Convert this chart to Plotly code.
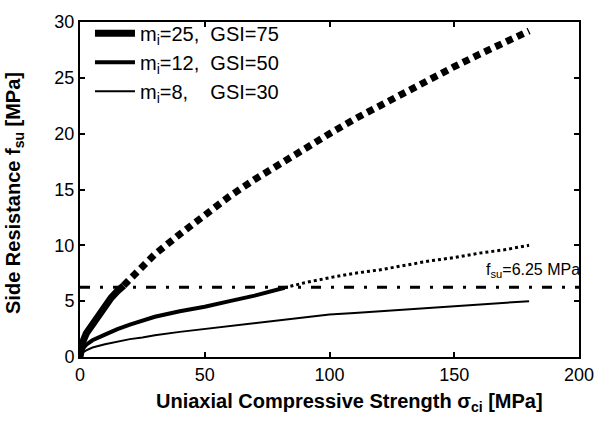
import plotly.graph_objects as go

# ---- data ----
sigma_a_solid = [0, 1, 2.5, 5, 7.5, 10, 12.5, 15, 17.5]
fsu_a_solid = [0, 1.3, 2.1, 2.9, 3.8, 4.6, 5.3, 5.9, 6.4]
sigma_a_dot = [17.5, 20, 30, 40, 50, 60, 70, 80, 90, 100, 110, 120, 130, 140, 150, 160, 170, 180]
fsu_a_dot = [6.4, 7.0, 9.2, 11.0, 12.8, 14.4, 15.9, 17.3, 18.7, 20.0, 21.3, 22.5, 23.7, 24.9, 26.0, 27.1, 28.1, 29.2]

sigma_b_solid = [0, 1, 2.5, 5, 10, 15, 20, 25, 30, 40, 50, 60, 70, 82]
fsu_b_solid = [0, 0.7, 1.1, 1.5, 2.0, 2.5, 2.9, 3.25, 3.6, 4.1, 4.5, 5.0, 5.5, 6.2]
sigma_b_dot = [82, 90, 100, 110, 120, 130, 140, 150, 160, 170, 180]
fsu_b_dot = [6.2, 6.65, 7.1, 7.5, 7.8, 8.2, 8.6, 8.9, 9.3, 9.6, 10.0]

sigma_c = [0, 1, 2.5, 5, 10, 15, 20, 25, 30, 40, 50, 60, 70, 80, 90, 100, 110, 120, 130, 140, 150, 160, 170, 180]
fsu_c = [0, 0.4, 0.6, 0.85, 1.15, 1.4, 1.6, 1.75, 1.95, 2.25, 2.5, 2.8, 3.05, 3.3, 3.55, 3.8, 3.95, 4.1, 4.3, 4.45, 4.6, 4.75, 4.9, 5.0]

limit_x = [0, 200]
limit_y = [6.25, 6.25]

legend_labels = ["m<sub>i</sub>=25,&nbsp;&nbsp;GSI=75",
                 "m<sub>i</sub>=12,&nbsp;&nbsp;GSI=50",
                 "m<sub>i</sub>=8,&nbsp;&nbsp;&nbsp;&nbsp;GSI=30"]

x_ticks = [0, 50, 100, 150, 200]
y_ticks = [0, 5, 10, 15, 20, 25, 30]

FONT = "Liberation Sans, Arial, sans-serif"

fig = go.Figure()
fig.add_trace(go.Scatter(x=limit_x, y=limit_y, mode="lines", showlegend=False,
                         line=dict(color="black", width=3, dash="10px,10px,3px,10px")))
fig.add_trace(go.Scatter(x=sigma_a_solid, y=fsu_a_solid, mode="lines", name=legend_labels[0],
                         line=dict(color="black", width=7)))
fig.add_trace(go.Scatter(x=sigma_b_solid, y=fsu_b_solid, mode="lines", name=legend_labels[1],
                         line=dict(color="black", width=4)))
fig.add_trace(go.Scatter(x=sigma_c, y=fsu_c, mode="lines", name=legend_labels[2],
                         line=dict(color="black", width=2)))
fig.add_trace(go.Scatter(x=sigma_a_dot, y=fsu_a_dot, mode="lines", showlegend=False,
                         line=dict(color="black", width=7, dash="7px,5px")))
fig.add_trace(go.Scatter(x=sigma_b_dot, y=fsu_b_dot, mode="lines", showlegend=False,
                         line=dict(color="black", width=3, dash="3px,3px")))

axis_common = dict(showline=True, linecolor="black", linewidth=2, mirror="ticks",
                   ticks="inside", ticklen=5, tickwidth=2, tickcolor="black",
                   showgrid=False, zeroline=False,
                   tickfont=dict(family=FONT, size=18, color="black"))

fig.update_xaxes(range=[0, 200], tickvals=x_ticks, **axis_common)
fig.update_yaxes(range=[0, 30], tickvals=y_ticks, **axis_common)

fig.add_annotation(x=200, y=6.25, xref="x", yref="y", text="f<sub>su</sub>=6.25 MPa",
                   showarrow=False, xanchor="right", yanchor="bottom", xshift=3, yshift=5,
                   font=dict(family=FONT, size=16, color="black"))
fig.add_annotation(x=0.54, y=-0.135, xref="paper", yref="paper",
                   text="<b>Uniaxial Compressive Strength σ<sub>ci</sub> [MPa]</b>",
                   showarrow=False, xanchor="center", yanchor="middle",
                   font=dict(family=FONT, size=20, color="black"))
fig.add_annotation(x=-0.13, y=0.49, xref="paper", yref="paper",
                   text="<b>Side Resistance f<sub>su</sub> [MPa]</b>", textangle=-90,
                   showarrow=False, xanchor="center", yanchor="middle",
                   font=dict(family=FONT, size=20, color="black"))

fig.update_layout(
    width=606, height=421,
    margin=dict(l=80, r=18, t=18, b=64),
    plot_bgcolor="white", paper_bgcolor="white",
    font=dict(family=FONT, color="black"),
    legend=dict(x=0.02, y=1.025, xanchor="left", yanchor="top", itemwidth=40,
                bgcolor="rgba(0,0,0,0)", borderwidth=0,
                font=dict(family=FONT, size=20, color="black")),
)

fig.write_html("out.html")
